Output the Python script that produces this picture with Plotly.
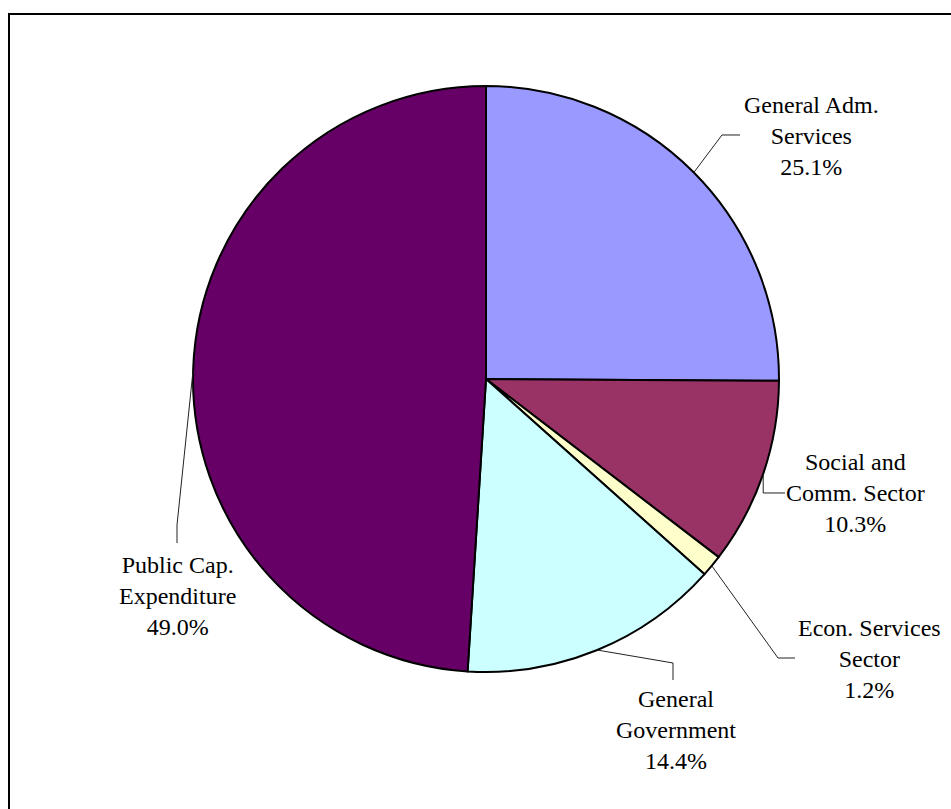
import math
import plotly.graph_objects as go

# Share of expenditure by category (percent)
categories = [
    "General Adm.<br>Services",
    "Social and<br>Comm. Sector",
    "Econ. Services<br>Sector",
    "General<br>Government",
    "Public Cap.<br>Expenditure",
]
shares = [25.1, 10.3, 1.2, 14.4, 49.0]
colors = ["#9999FF", "#993366", "#FFFFCC", "#CCFFFF", "#660066"]

# Page and pie geometry (pixels)
W, H = 951, 809
CX, CY, R = 486, 379, 293

# Label block centres and leader-line bends/ends (pixels), per category
label_centers = [(811, 136), (855, 493), (869, 659), (676, 730), (177, 596)]
leader_bends = [(722, 135), (None, 493), (778, 658), (673, 663), (177, 525)]
leader_ends = [(740, 135), (785, 493), (795, 658), (673, 680), (177, 543)]

SERIF = "Liberation Serif, Times New Roman, serif"


def px(x):
    return x / W


def py(y):
    return 1 - y / H


fig = go.Figure(
    go.Pie(
        labels=[c.replace("<br>", " ") for c in categories],
        values=shares,
        sort=False,
        direction="clockwise",
        rotation=0,
        marker=dict(colors=colors, line=dict(color="black", width=2)),
        textinfo="none",
        hoverinfo="label+percent",
        domain=dict(x=[px(CX - R), px(CX + R)], y=[py(CY + R), py(CY - R)]),
        showlegend=False,
    )
)

shapes = []
annotations = []
total = sum(shares)
cum = 0.0
for name, val, (lx, ly), bend, end in zip(
    categories, shares, label_centers, leader_bends, leader_ends
):
    mid = (cum + val / 2) / total * 2 * math.pi
    cum += val
    ax = CX + R * math.sin(mid)
    ay = CY - R * math.cos(mid)
    bx, by = bend
    if bx is None:
        bx = ax
    path = "M {:.5f} {:.5f} L {:.5f} {:.5f} L {:.5f} {:.5f}".format(
        px(ax), py(ay), px(bx), py(by), px(end[0]), py(end[1])
    )
    shapes.append(
        dict(type="path", xref="paper", yref="paper", path=path,
             line=dict(color="#222222", width=1))
    )
    annotations.append(
        dict(
            x=px(lx), y=py(ly), xref="paper", yref="paper",
            text=f"{name}<br>{val:.1f}%",
            showarrow=False, xanchor="center", yanchor="middle",
            align="center",
            font=dict(family=SERIF, size=24, color="black"),
        )
    )

# Chart frame: left and top edges only, reaching the page's right and bottom edges
shapes.append(
    dict(type="path", xref="paper", yref="paper",
         path="M {:.5f} 0 L {:.5f} {:.5f} L 1 {:.5f}".format(
             px(9), px(9), py(14), py(14)),
         line=dict(color="black", width=2))
)

fig.update_layout(
    width=W, height=H,
    margin=dict(l=0, r=0, t=0, b=0),
    paper_bgcolor="white",
    plot_bgcolor="white",
    font=dict(family=SERIF),
    shapes=shapes,
    annotations=annotations,
)

fig.write_html("out.html", config={"displayModeBar": False})
